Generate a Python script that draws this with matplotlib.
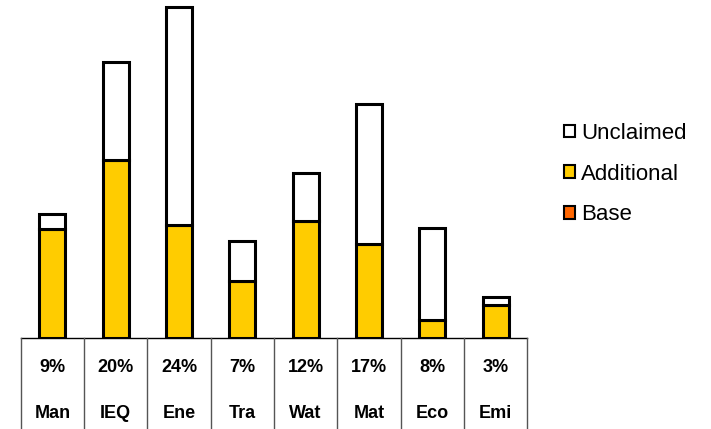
import numpy as np
import matplotlib
matplotlib.use("Agg")
import matplotlib.pyplot as plt
from matplotlib.patches import Patch
from matplotlib.lines import Line2D

plt.rcParams['font.family'] = ['Liberation Sans', 'DejaVu Sans']

# credit categories and their weighting (%)
categories = ["Man", "IEQ", "Ene", "Tra", "Wat", "Mat", "Eco", "Emi"]
weights = [9, 20, 24, 7, 12, 17, 8, 3]
# points achieved per category, in % of total
base = [0, 0, 0, 0, 0, 0, 0, 0]
additional = [7.9, 12.9, 8.2, 4.1, 8.5, 6.8, 1.3, 2.4]

base = np.array(base, dtype=float)
additional = np.array(additional, dtype=float)
unclaimed = np.array(weights, dtype=float) - base - additional

W, H = 711, 429
fig = plt.figure(figsize=(W / 100, H / 100), dpi=100)

x0, x1 = 20.7, 527.3     # table / plot span in px
y_base = 338             # bar baseline in px from top
ax = fig.add_axes([x0 / W, (H - y_base) / H, (x1 - x0) / W, y_base / H])

x = np.arange(len(categories))
bw = 0.41
kw = dict(width=bw, edgecolor="black", linewidth=2.2)
ax.bar(x, base, color="#FF6600", **kw)
ax.bar(x, additional, bottom=base, color="#FFCC00", **kw)
ax.bar(x, unclaimed, bottom=base + additional, color="white", **kw)

ax.set_xlim(-0.5, len(categories) - 0.5)
ax.set_ylim(0, y_base / 13.79)
ax.axis("off")

# data table beneath the bars
ty = (H - y_base) / H
fig.add_artist(Line2D([x0 / W, x1 / W], [ty, ty], color="black", lw=1.0))
cell = (x1 - x0) / len(categories)
for i in range(len(categories) + 1):
    xx = (x0 + i * cell) / W
    fig.add_artist(Line2D([xx, xx], [0, ty], color="#555555", lw=1.0))
for i, (cat, w) in enumerate(zip(categories, weights)):
    cx = (x0 + (i + 0.5) * cell) / W
    fig.text(cx, 1 - 367.5 / H, f"{w}%", ha="center", va="center",
             fontsize=13, fontweight="bold")
    fig.text(cx, 1 - 413 / H, cat, ha="center", va="center",
             fontsize=13, fontweight="bold")

handles = [
    Patch(facecolor="white", edgecolor="black", linewidth=1.5, label="Unclaimed"),
    Patch(facecolor="#FFCC00", edgecolor="black", linewidth=1.5, label="Additional"),
    Patch(facecolor="#FF6600", edgecolor="black", linewidth=1.5, label="Base"),
]
fig.legend(handles=handles, loc="center left", bbox_to_anchor=(553 / W, 1 - 174 / H),
           frameon=False, fontsize=16, handlelength=0.5, handleheight=0.5,
           handletextpad=0.25, labelspacing=0.88, borderpad=0)

fig.savefig("out.png", dpi=100)
